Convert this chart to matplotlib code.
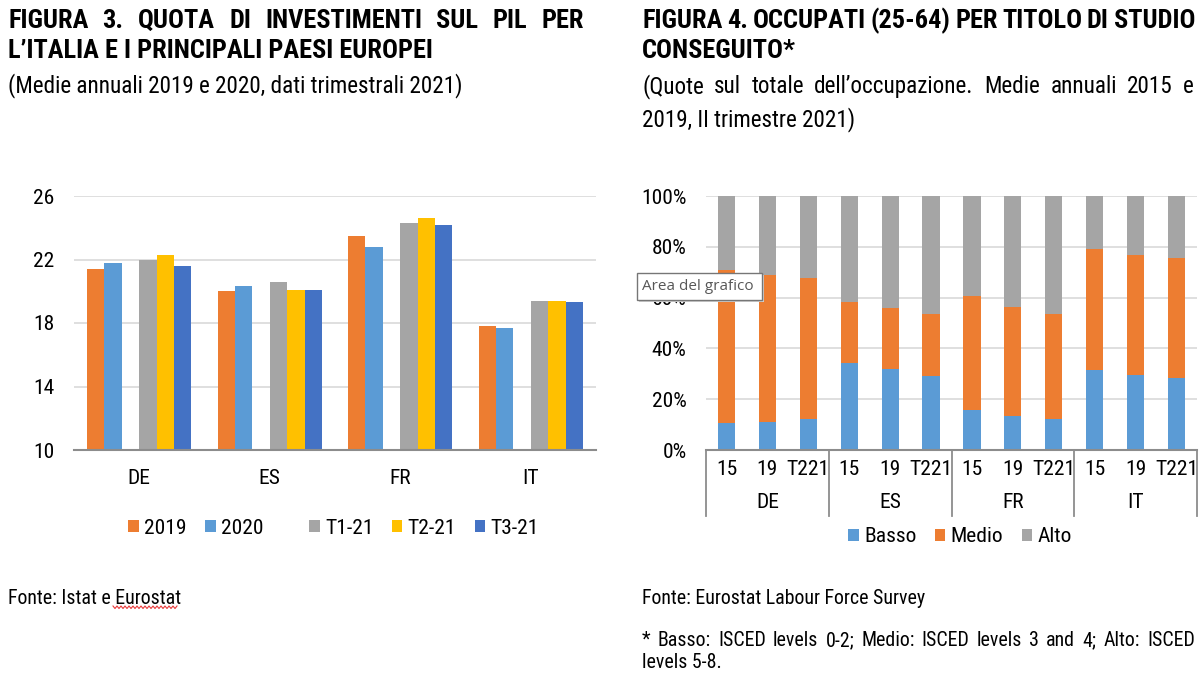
import os
import numpy as np
import matplotlib
matplotlib.use('agg')
import matplotlib.pyplot as plt
from matplotlib import font_manager
from matplotlib.font_manager import FontProperties
from matplotlib.lines import Line2D
from matplotlib.patches import Rectangle
from matplotlib.ticker import PercentFormatter

W, H = 1200, 675

# ---- data: figura 3 (quota investimenti sul PIL)
countries = ['DE', 'ES', 'FR', 'IT']
inv_series = ['2019', '2020', 'T1-21', 'T2-21', 'T3-21']
inv_2019 = [21.4, 20.0, 23.5, 17.8]
inv_2020 = [21.8, 20.3, 22.8, 17.7]
inv_t1 = [22.0, 20.6, 24.3, 19.4]
inv_t2 = [22.3, 20.1, 24.6, 19.4]
inv_t3 = [21.6, 20.1, 24.2, 19.3]

# ---- data: figura 4 (occupati per titolo di studio, % sul totale)
periods = ['15', '19', 'T221']
edu_levels = ['Basso', 'Medio', 'Alto']
basso = [10.5, 10.9, 12.1, 34.2, 31.8, 29.3, 15.8, 13.5, 12.1, 31.3, 29.7, 28.3]
medio = [60.5, 58.1, 55.8, 23.9, 24.2, 24.4, 44.9, 42.7, 41.6, 47.8, 46.9, 47.1]

ORANGE, LBLUE, GREY, YELLOW, DBLUE = '#ED7D31', '#5B9BD5', '#A5A5A5', '#FFC000', '#4472C4'
GRID = '#D9D9D9'
AXIS = '#8C8C8C'


def find_fonts():
    # look for a narrow / condensed sans, fall back to Liberation Sans
    files = {os.path.basename(f.fname).lower(): f.fname for f in font_manager.fontManager.ttflist}
    pairs = [('liberationsansnarrow-regular', 'liberationsansnarrow-bold.'),
             ('arialn.', 'arialnb.'),
             ('robotocondensed-regular', 'robotocondensed-bold.'),
             ('notosans-condensed.', 'notosans-condensedbold.'),
             ('opensans_condensed-regular', 'opensans_condensed-bold.'),
             ('opensans-condensedregular', 'opensans-condensedbold.'),
             ('dejavusanscondensed.', 'dejavusanscondensed-bold.')]
    for reg, bold in pairs:
        r = [p for n, p in files.items() if n.startswith(reg)]
        b = [p for n, p in files.items() if n.startswith(bold)]
        if r and b:
            return FontProperties(fname=r[0]), FontProperties(fname=b[0])
    return FontProperties(family='Liberation Sans'), FontProperties(family='Liberation Sans', weight='bold')


REG, BOLD = find_fonts()

fig = plt.figure(figsize=(W / 100, H / 100), dpi=100)
renderer = fig.canvas.get_renderer()


def fp(base, size):
    p = base.copy()
    p.set_size(size)
    return p


def fit(base, text, width):
    # font size (pt) that makes text as wide as the reference
    t = fig.text(0, 0, text, fontproperties=fp(base, 10))
    w = t.get_window_extent(renderer).width
    t.remove()
    return 10 * width / w


TITLE = fp(BOLD, fit(BOLD, 'L\u2019ITALIA E I PRINCIPALI PAESI EUROPEI', 425))
SUB = fp(REG, fit(REG, '(Medie annuali 2019 e 2020, dati trimestrali 2021)', 452))
FOOT = fp(REG, fit(REG, 'Fonte: Istat e Eurostat', 171))
CHART = fp(REG, fit(REG, 'Basso', 52))


def fx(x):
    return x / W


def fy(y):
    return 1 - y / H


def put_line(text, x0, y, x1=None, prop=SUB):
    # baseline at pixel y; stretch the words between x0 and x1 when x1 is given
    if x1 is None:
        return fig.text(fx(x0), fy(y), text, ha='left', va='baseline', fontproperties=prop)
    words = text.split(' ')
    arts = [fig.text(0, fy(y), w, ha='left', va='baseline', fontproperties=prop) for w in words]
    widths = [a.get_window_extent(renderer).width for a in arts]
    gap = (x1 - x0 - sum(widths)) / (len(words) - 1)
    x = x0
    for a, w in zip(arts, widths):
        a.set_x(fx(x))
        x += w + gap


def box(l, t, r, b):
    return [fx(l), fy(b), fx(r) - fx(l), fy(t) - fy(b)]


def style_ticks(a):
    for lbl in a.get_xticklabels() + a.get_yticklabels():
        lbl.set_fontproperties(CHART)


def legend(handles, labels, cx, cy):
    return fig.legend(handles, labels, loc='center', bbox_to_anchor=(fx(cx), fy(cy)),
                      ncol=len(handles), frameon=False, prop=CHART, handlelength=0.5,
                      handleheight=0.5, handletextpad=0.25, columnspacing=0.85, borderpad=0)


# ---------------- left chart
put_line('FIGURA 3. QUOTA DI INVESTIMENTI SUL PIL PER', 8, 28, 584, prop=TITLE)
put_line('L\u2019ITALIA E I PRINCIPALI PAESI EUROPEI', 8, 58, prop=TITLE)
put_line('(Medie annuali 2019 e 2020, dati trimestrali 2021)', 8, 92)

ax = fig.add_axes(box(74, 196, 596, 450))
x = np.arange(len(countries))
bw = 1 / 7.5
slots = [0, 1, 3, 4, 5]
cols = [ORANGE, LBLUE, GREY, YELLOW, DBLUE]
for vals, s, c, lab in zip([inv_2019, inv_2020, inv_t1, inv_t2, inv_t3], slots, cols, inv_series):
    ax.bar(x + (s - 2.5) * bw, vals, width=bw, color=c, label=lab, zorder=2)
ax.set_xlim(-0.5, len(countries) - 0.5)
ax.set_ylim(10, 26)
ax.set_yticks([10, 14, 18, 22, 26])
ax.set_xticks(x)
ax.set_xticklabels(countries)
ax.grid(axis='y', color=GRID, lw=1.2, zorder=0)
for e in ('top', 'right', 'left'):
    ax.spines[e].set_visible(False)
ax.spines['bottom'].set_color(AXIS)
ax.spines['bottom'].set_linewidth(1.5)
ax.spines['bottom'].set_zorder(3)
ax.tick_params(axis='y', length=0, pad=14)
ax.tick_params(axis='x', length=0, pad=14)
style_ticks(ax)

h, l = ax.get_legend_handles_labels()
legend(h[:2], l[:2], 196, 528)
legend(h[2:], l[2:], 424, 528)

put_line('Fonte: Istat e Eurostat', 8, 604, prop=FOOT)
# spell-check squiggle under "Eurostat"
sx = np.arange(113, 178, 2)
sy = np.where(np.arange(len(sx)) % 2 == 0, 606, 608.5)
fig.add_artist(Line2D(fx(sx), fy(sy), color='#E8393A', lw=0.8))

# ---------------- right chart
put_line('FIGURA 4. OCCUPATI (25-64) PER TITOLO DI STUDIO', 642, 28, 1195, prop=TITLE)
put_line('CONSEGUITO*', 642, 58, prop=TITLE)
put_line('(Quote sul totale dell\u2019occupazione. Medie annuali 2015 e', 642, 93, 1194)
put_line('2019, II trimestre 2021)', 642, 126)

ax2 = fig.add_axes(box(706, 196, 1197, 450))
n = len(countries) * len(periods)
xs = np.arange(n)
b = np.array(basso) / 100
m = np.array(medio) / 100
a = 1 - b - m
ax2.bar(xs, b, width=0.42, color=LBLUE, label=edu_levels[0], zorder=2)
ax2.bar(xs, m, bottom=b, width=0.42, color=ORANGE, label=edu_levels[1], zorder=2)
ax2.bar(xs, a, bottom=b + m, width=0.42, color=GREY, label=edu_levels[2], zorder=2)
ax2.set_xlim(-0.5, n - 0.5)
ax2.set_ylim(0, 1)
ax2.set_yticks(np.linspace(0, 1, 6))
ax2.yaxis.set_major_formatter(PercentFormatter(1, decimals=0))
ax2.set_xticks(xs)
ax2.set_xticklabels(periods * len(countries))
ax2.grid(axis='y', color=GRID, lw=1.2, zorder=0)
for e in ('top', 'right', 'left'):
    ax2.spines[e].set_visible(False)
ax2.spines['bottom'].set_color(AXIS)
ax2.spines['bottom'].set_linewidth(1.5)
ax2.tick_params(axis='y', length=0, pad=14)
ax2.tick_params(axis='x', length=0, pad=7)
style_ticks(ax2)

tr = ax2.get_xaxis_transform()
for i, c in enumerate(countries):
    ax2.text(i * 3 + 1, (450 - 503) / 254, c, transform=tr, ha='center', va='center',
             fontproperties=CHART, clip_on=False)
for i in range(len(countries) + 1):
    ax2.plot([i * 3 - 0.5] * 2, [0, (450 - 516) / 254], transform=tr, color=AXIS,
             lw=1.3, clip_on=False)

legend(*ax2.get_legend_handles_labels(), 960, 537)

# hover tooltip left on the chart area
fig.add_artist(Rectangle((fx(639), fy(302)), fx(125), fy(0) - fy(27), transform=fig.transFigure,
                         fc='#CFCFCF', ec='none', zorder=5))
fig.add_artist(Rectangle((fx(637), fy(300)), fx(125), fy(0) - fy(27), transform=fig.transFigure,
                         fc='white', ec='#767676', lw=1, zorder=6))
fig.text(fx(642), fy(287), 'Area del grafico', ha='left', va='center', fontsize=11,
         family=['Open Sans', 'DejaVu Sans'], color='#575757', zorder=7)

put_line('Fonte: Eurostat Labour Force Survey', 642, 604, prop=FOOT)
put_line('* Basso: ISCED levels 0-2; Medio: ISCED levels 3 and 4; Alto: ISCED', 642, 646, 1195,
         prop=FOOT)
put_line('levels 5-8.', 642, 668, prop=FOOT)

fig.savefig('out.png', dpi=100, facecolor='white')
